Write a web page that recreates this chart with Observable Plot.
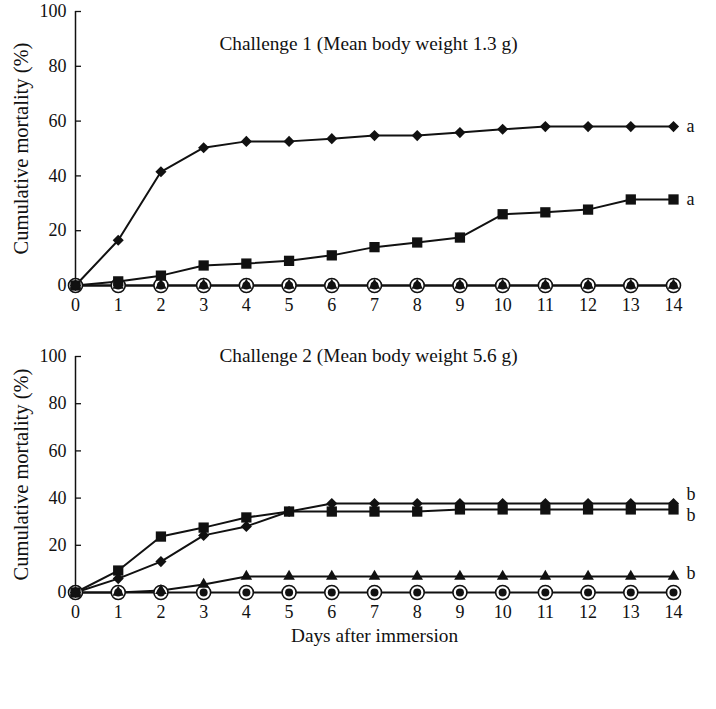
<!DOCTYPE html>
<html><head><meta charset="utf-8">
<script src="https://cdn.jsdelivr.net/npm/d3@7"></script>
<script src="https://cdn.jsdelivr.net/npm/@observablehq/plot@0.6"></script>
<style>
body{margin:0;background:#fff;font-family:"Liberation Serif","Times New Roman",serif}
#chart svg{display:block}
</style>
</head><body><div id="chart"></div>
<script>
const days = [0,1,2,3,4,5,6,7,8,9,10,11,12,13,14];
const yTicks = [0,20,40,60,80,100];

// Challenge 1
const c1Diamond  = [0,16.5,41.5,50.3,52.6,52.6,53.6,54.7,54.7,55.8,57,58,58,58,58];
const c1Square   = [0,1.5,3.6,7.3,8,9,11,14,15.7,17.5,26,26.7,27.7,31.4,31.4];
const c1Triangle = [0,0,0,0,0,0,0,0,0,0,0,0,0,0,0];
const c1Circle   = [0,0,0,0,0,0,0,0,0,0,0,0,0,0,0];
const c1Title = "Challenge 1 (Mean body weight 1.3 g)";
const c1Letters = ["a","a"];

// Challenge 2
const c2Diamond  = [0,5.9,13.1,24.2,28,34.3,37.7,37.7,37.7,37.7,37.7,37.7,37.7,37.7,37.7];
const c2Square   = [0,9.3,23.7,27.5,31.8,34.3,34.3,34.3,34.3,35.2,35.2,35.2,35.2,35.2,35.2];
const c2Triangle = [0,0,0.8,3.4,6.8,6.8,6.8,6.8,6.8,6.8,6.8,6.8,6.8,6.8,6.8];
const c2Circle   = [0,0,0,0,0,0,0,0,0,0,0,0,0,0,0];
const c2Title = "Challenge 2 (Mean body weight 5.6 g)";
const c2Letters = ["b","b","b"];

const yLabel = "Cumulative mortality (%)";
const xLabel = "Days after immersion";

const toRows = (vals, s) => days.map((d,i) => ({day:d, v:vals[i], s}));
const last = arr => ({day: days[days.length-1], v: arr[arr.length-1]});

function panel({diamond, square, triangle, circle, title, titleDy, letters, height, marginTop, marginBottom, xlab}) {
  const all = [...toRows(diamond,"d"),...toRows(square,"s"),...toRows(triangle,"t"),...toRows(circle,"c")];
  const marks = [
    Plot.ruleX([0], {stroke:"#111", strokeWidth:1.5}),
    Plot.axisY({ticks:yTicks, tickSize:-6, tickPadding:15, fontSize:18, label:null, stroke:"#111", strokeWidth:1.3}),
    Plot.axisX({ticks:days, tickSize:0, tickPadding:13, fontSize:18, label:null, tickFormat:d=>String(d)}),
    Plot.text([yLabel], {frameAnchor:"left", textAnchor:"middle", rotate:-90, dx:-54, fontSize:20.5, fill:"#111"}),
    Plot.text([title], {frameAnchor:"top", dy:titleDy, dx:-6, fontSize:19.3, fill:"#111"}),
    Plot.line(all, {x:"day", y:"v", z:"s", stroke:"#111", strokeWidth:2}),
    Plot.dot(toRows(circle,"c"), {x:"day", y:"v", r:7, fill:"white", stroke:"#111", strokeWidth:1.6}),
    Plot.dot(toRows(circle,"c"), {x:"day", y:"v", r:4, fill:"#111"}),
    Plot.dot(toRows(triangle,"t"), {x:"day", y:"v", symbol:"triangle", r:4.3, fill:"#111", stroke:"none"}),
    Plot.dot(toRows(square,"s"), {x:"day", y:"v", symbol:"square", r:5.8, fill:"#111", stroke:"none"}),
    Plot.dot(toRows(diamond,"d"), {x:"day", y:"v", symbol:"diamond2", r:5, fill:"#111", stroke:"none"})
  ];
  if (xlab) marks.push(Plot.text([xLabel], {frameAnchor:"bottom", dy:49, fontSize:19.3, fill:"#111"}));
  return Plot.plot({
    width:716, height, marginLeft:75, marginRight:43, marginTop, marginBottom,
    style:{fontFamily:"Liberation Serif, serif", color:"#111", background:"white"},
    x:{domain:[0,14]}, y:{domain:[0,100]},
    marks:[...marks, ...letters]
  });
}

const lettersTop = [
  Plot.text([last(c1Diamond)], {x:"day", y:"v", text:()=>c1Letters[0], dx:13, textAnchor:"start", fontSize:18, fill:"#111"}),
  Plot.text([last(c1Square)], {x:"day", y:"v", text:()=>c1Letters[1], dx:13, textAnchor:"start", fontSize:18, fill:"#111"})
];
const lettersBot = [
  Plot.text([last(c2Diamond)], {x:"day", y:"v", text:()=>c2Letters[0], dx:13, dy:-9, textAnchor:"start", fontSize:18, fill:"#111"}),
  Plot.text([last(c2Square)], {x:"day", y:"v", text:()=>c2Letters[1], dx:13, dy:6, textAnchor:"start", fontSize:18, fill:"#111"}),
  Plot.text([last(c2Triangle)], {x:"day", y:"v", text:()=>c2Letters[2], dx:13, dy:-3, textAnchor:"start", fontSize:18, fill:"#111"})
];

const el = document.getElementById("chart");
el.append(panel({diamond:c1Diamond, square:c1Square, triangle:c1Triangle, circle:c1Circle, title:c1Title, titleDy:25, letters:lettersTop, height:320, marginTop:11, marginBottom:35, xlab:false}));
el.append(panel({diamond:c2Diamond, square:c2Square, triangle:c2Triangle, circle:c2Circle, title:c2Title, titleDy:-8, letters:lettersBot, height:340, marginTop:36, marginBottom:68, xlab:true}));
</script>
</body></html>
